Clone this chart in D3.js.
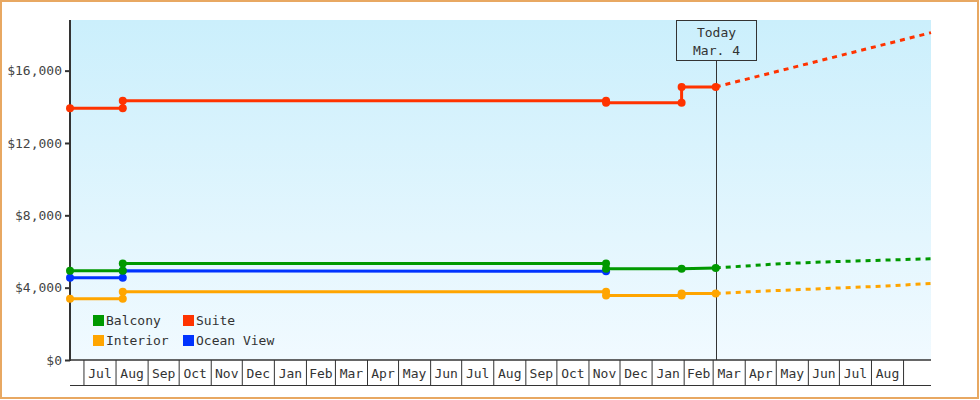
<html>
<head>
  <title>Cabin prices</title>
  <script src="https://d3js.org/d3.v7.min.js"></script>
  <style>
    body { margin: 0; background: white; }
    text { font-family: "DejaVu Sans Mono", monospace; font-size: 13px; fill: #333; }
    .yaxis line { stroke: #333; stroke-width: 2px; }
    .yaxis .domain { stroke: none; }
    .yaxis text { fill: #444; font-family: "DejaVu Sans Mono", monospace; font-size: 13px; }
    .months line { stroke: #333; stroke-width: 1px; }
    .months .domain { stroke: none; }
  </style>
</head>
<body>
  <svg id="chart" width="980" height="400"></svg>

  <script>
    // dates of the domain and marker
    const startDate = "2021-06-18";
    const endDate = "2023-09-28";
    const todayDate = "2023-03-04";
    const todayLabel = ["Today", "Mar. 4"];

    const yTicks = [0, 4000, 8000, 12000, 16000];

    // price history [date, price]
    const balcony = [["2021-06-18", 4930], ["2021-08-08", 4930], ["2021-08-08", 5330], ["2022-11-18", 5330],
      ["2022-11-18", 5040], ["2023-01-30", 5050], ["2023-03-04", 5090]];
    const interior = [["2021-06-18", 3390], ["2021-08-08", 3390], ["2021-08-08", 3770], ["2022-11-18", 3770],
      ["2022-11-18", 3570], ["2023-01-30", 3570], ["2023-01-30", 3680], ["2023-03-04", 3680]];
    const oceanView = [["2021-06-18", 4550], ["2021-08-08", 4550], ["2021-08-08", 4930], ["2022-11-18", 4910]];
    const suite = [["2021-06-18", 13920], ["2021-08-08", 13920], ["2021-08-08", 14330], ["2022-11-18", 14330],
      ["2022-11-18", 14220], ["2023-01-30", 14220], ["2023-01-30", 15100], ["2023-03-04", 15100]];

    // projected prices (dotted)
    const balconyProj = [["2023-03-04", 5090], ["2023-05-01", 5310], ["2023-06-15", 5420], ["2023-09-28", 5600]];
    const interiorProj = [["2023-03-04", 3680], ["2023-04-03", 3770], ["2023-08-11", 4080], ["2023-09-28", 4230]];
    const suiteProj = [["2023-03-04", 15100], ["2023-09-28", 18100]];

    const series = [
      { name: "Ocean View", color: "#0033ff", data: oceanView, proj: [] },
      { name: "Balcony", color: "#009900", data: balcony, proj: balconyProj },
      { name: "Interior", color: "#ffa500", data: interior, proj: interiorProj },
      { name: "Suite", color: "#ff3300", data: suite, proj: suiteProj }
    ];
    const legendOrder = ["Balcony", "Suite", "Interior", "Ocean View"];

    const parse = d3.timeParse("%Y-%m-%d");
    const svg = d3.select("svg#chart");

    const margin = { left: 70, right: 931, top: 20, bottom: 360 };

    const xScale = d3.scaleTime().domain([parse(startDate), parse(endDate)]).range([margin.left, margin.right]);
    const yScale = d3.scaleLinear().domain([0, 18800]).range([margin.bottom, margin.top]);

    // outer frame
    svg.append("rect").attr("x", 1).attr("y", 1).attr("width", 977).attr("height", 397)
      .attr("fill", "white").attr("stroke", "#e8a862").attr("stroke-width", 2);

    // plot background gradient
    const grad = svg.append("defs").append("linearGradient").attr("id", "bg")
      .attr("x1", 0).attr("y1", 0).attr("x2", 0).attr("y2", 1);
    grad.append("stop").attr("offset", "0%").attr("stop-color", "#cbeffc");
    grad.append("stop").attr("offset", "100%").attr("stop-color", "#f1faff");
    svg.append("rect").attr("x", margin.left + 1).attr("y", margin.top)
      .attr("width", margin.right - margin.left - 1).attr("height", margin.bottom - margin.top)
      .attr("fill", "url(#bg)");

    // y axis
    svg.append("g").attr("class", "yaxis")
      .attr("transform", `translate(${margin.left},0)`)
      .call(d3.axisLeft(yScale).tickValues(yTicks).tickSize(5).tickPadding(3)
        .tickFormat(d => "$" + d3.format(",")(d)));
    svg.append("line").attr("x1", margin.left).attr("x2", margin.left)
      .attr("y1", margin.top).attr("y2", margin.bottom + 1)
      .attr("stroke", "#333").attr("stroke-width", 2);

    // month cells under the plot
    svg.append("g").attr("class", "months")
      .attr("transform", `translate(0,${margin.bottom})`)
      .call(d3.axisBottom(xScale).ticks(d3.timeMonth.every(1)).tickSize(25).tickFormat(""));
    svg.append("line").attr("x1", margin.left).attr("x2", margin.right)
      .attr("y1", margin.bottom).attr("y2", margin.bottom)
      .attr("stroke", "#333").attr("stroke-width", 1.5);
    svg.append("line").attr("x1", margin.left).attr("x2", margin.right)
      .attr("y1", margin.bottom + 25.5).attr("y2", margin.bottom + 25.5)
      .attr("stroke", "#333").attr("stroke-width", 1);

    const months = d3.timeMonth.range(d3.timeMonth.ceil(xScale.domain()[0]), xScale.domain()[1])
      .filter(m => d3.timeMonth.offset(m, 1) <= xScale.domain()[1]);
    svg.append("g").selectAll("text").data(months).join("text")
      .attr("x", d => (xScale(d) + xScale(d3.timeMonth.offset(d, 1))) / 2 + 0.5)
      .attr("y", margin.bottom + 18)
      .attr("text-anchor", "middle")
      .attr("fill", "#222")
      .text(d3.timeFormat("%b"));

    // today marker
    const tx = Math.round(xScale(parse(todayDate))) + 0.5;
    svg.append("line").attr("x1", tx).attr("x2", tx).attr("y1", 60).attr("y2", margin.bottom)
      .attr("stroke", "#333").attr("stroke-width", 1);
    svg.append("rect").attr("x", tx - 40).attr("y", 20.5).attr("width", 80).attr("height", 40)
      .attr("fill", "none").attr("stroke", "#333").attr("stroke-width", 1);
    svg.append("g").selectAll("text").data(todayLabel).join("text")
      .attr("x", tx).attr("y", (d, i) => 37 + i * 18)
      .attr("text-anchor", "middle")
      .text(d => d);

    // lines
    const line = d3.line().x(d => xScale(parse(d[0]))).y(d => yScale(d[1]));
    const plot = svg.append("g");

    series.forEach(s => {
      if (s.proj.length) {
        plot.append("path").attr("d", line(s.proj))
          .attr("fill", "none").attr("stroke", s.color).attr("stroke-width", 3)
          .attr("stroke-dasharray", "5,5").attr("stroke-dashoffset", 0);
      }
    });

    series.forEach(s => {
      plot.append("path").attr("d", line(s.data))
        .attr("fill", "none").attr("stroke", s.color).attr("stroke-width", 3);
      plot.selectAll(null).data(s.data).join("circle")
        .attr("cx", d => xScale(parse(d[0])))
        .attr("cy", d => yScale(d[1]))
        .attr("r", 4)
        .attr("fill", s.color);
    });

    // legend
    const legend = svg.append("g");
    legendOrder.forEach((name, i) => {
      const s = series.find(d => d.name === name);
      const lx = 93 + (i % 2) * 90;
      const ly = 315 + Math.floor(i / 2) * 20;
      legend.append("rect").attr("x", lx).attr("y", ly).attr("width", 11).attr("height", 11).attr("fill", s.color);
      legend.append("text").attr("x", lx + 13).attr("y", ly + 10).attr("fill", "#333").text(name);
    });
  </script>
</body>
</html>
